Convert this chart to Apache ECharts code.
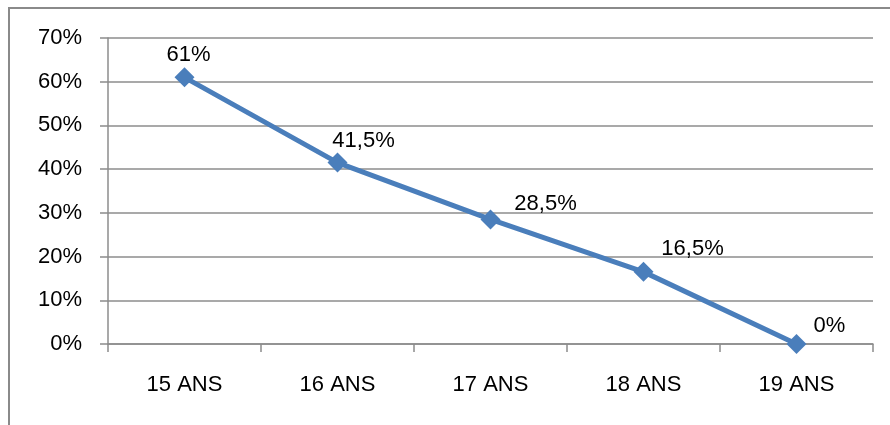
<!DOCTYPE html>
<html>
<head>
<meta charset="utf-8">
<script src="https://cdn.jsdelivr.net/npm/echarts@6/dist/echarts.min.js"></script>
<style>
  html, body { margin: 0; padding: 0; background: #fff; }
  #chart { width: 890px; height: 425px; }
</style>
</head>
<body>
<div id="chart"></div>
<script>
// Age groups and share per age (percent)
const categories = ['15 ANS', '16 ANS', '17 ANS', '18 ANS', '19 ANS'];
const values = [61, 41.5, 28.5, 16.5, 0];
const valueLabels = ['61%', '41,5%', '28,5%', '16,5%', '0%'];

// Label placement relative to each marker (pixels)
const labelOffsets = [[4, -22], [26, -22], [55, -15], [49, -23], [33, -18]];

const FONT = '"Liberation Sans", Arial, sans-serif';
const GRID_COLOR = '#8c8c8c';

const chart = echarts.init(document.getElementById('chart'), null, { renderer: 'canvas' });

const seriesData = values.map((v, i) => ({
  value: v,
  label: {
    show: true,
    position: 'inside',
    offset: labelOffsets[i],
    formatter: valueLabels[i],
    color: '#000',
    fontFamily: FONT,
    fontSize: 22
  }
}));

chart.setOption({
  animation: false,
  backgroundColor: '#fff',
  graphic: [{
    type: 'rect',
    shape: { x: 9, y: 8, width: 900, height: 440 },
    style: { fill: 'none', stroke: '#8a8a8a', lineWidth: 2 },
    silent: true
  }],
  grid: { left: 108, right: 17, top: 38, bottom: 81, containLabel: false },
  xAxis: {
    type: 'category',
    data: categories,
    boundaryGap: true,
    axisLine: { show: true, lineStyle: { color: GRID_COLOR, width: 1.5 } },
    axisTick: { show: true, length: 8, alignWithLabel: false, lineStyle: { color: GRID_COLOR, width: 1.5 } },
    axisLabel: { color: '#000', fontFamily: FONT, fontSize: 22, margin: 30 },
    splitLine: { show: false }
  },
  yAxis: {
    type: 'value',
    min: 0,
    max: 70,
    interval: 10,
    axisLine: { show: true, lineStyle: { color: GRID_COLOR, width: 1.5 } },
    axisTick: { show: true, length: 8, lineStyle: { color: GRID_COLOR, width: 1.5 } },
    axisLabel: {
      color: '#000', fontFamily: FONT, fontSize: 22, margin: 26,
      formatter: v => v + '%'
    },
    splitLine: { show: true, lineStyle: { color: GRID_COLOR, width: 1.5 } }
  },
  series: [{
    type: 'line',
    data: seriesData,
    symbol: 'diamond',
    symbolSize: 20,
    lineStyle: { color: '#4a7ebb', width: 5 },
    itemStyle: { color: '#4a7ebb' },
    z: 3
  }]
});
</script>
</body>
</html>
